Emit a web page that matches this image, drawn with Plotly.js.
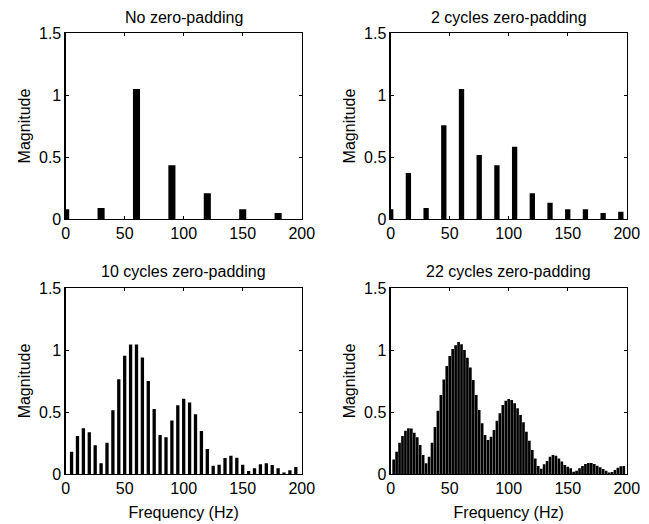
<!DOCTYPE html>
<html>
<head>
<meta charset="utf-8">
<script src="https://cdn.plot.ly/plotly-3.0.1.min.js"></script>
<style>html,body{margin:0;padding:0;background:#fff;}#chart{width:649px;height:524px;}</style>
</head>
<body>
<div id="chart"></div>
<script>
// Panel 1: no zero-padding (30 Hz spacing)
const freq1 = [0, 30, 60, 90, 120, 150, 180];
const mag1 = [0.078, 0.089, 1.048, 0.434, 0.207, 0.078, 0.048];

// Panel 2: 2 cycles zero-padding (15 Hz spacing)
const freq2 = [0, 15, 30, 45, 60, 75, 90, 105, 120, 135, 150, 165, 180, 195];
const mag2 = [0.078, 0.372, 0.089, 0.757, 1.048, 0.517, 0.434, 0.582, 0.207, 0.132, 0.078, 0.078, 0.048, 0.059];

// Panel 3: 10 cycles zero-padding (5 Hz spacing)
const freq3 = [5, 10, 15, 20, 25, 30, 35, 40, 45, 50, 55, 60, 65, 70, 75, 80, 85, 90, 95, 100,
               105, 110, 115, 120, 125, 130, 135, 140, 145, 150, 155, 160, 165, 170, 175, 180, 185, 190, 195];
const mag3 = [0.18, 0.307, 0.369, 0.337, 0.232, 0.086, 0.253, 0.514, 0.765, 0.953, 1.045, 1.045, 0.94, 0.751, 0.525, 0.315, 0.296, 0.431, 0.555, 0.606,
              0.576, 0.482, 0.347, 0.202, 0.067, 0.075, 0.129, 0.148, 0.132, 0.075, 0.024, 0.046, 0.078, 0.086, 0.073, 0.046, 0.013, 0.03, 0.057];

// Panel 4: 22 cycles zero-padding (2.5 Hz spacing)
const freq4 = [2.5, 5, 7.5, 10, 12.5, 15, 17.5, 20, 22.5, 25, 27.5, 30, 32.5, 35, 37.5, 40, 42.5, 45, 47.5, 50,
               52.5, 55, 57.5, 60, 62.5, 65, 67.5, 70, 72.5, 75, 77.5, 80, 82.5, 85, 87.5, 90, 92.5, 95, 97.5, 100,
               102.5, 105, 107.5, 110, 112.5, 115, 117.5, 120, 122.5, 125, 127.5, 130, 132.5, 135, 137.5, 140, 142.5, 145, 147.5, 150,
               152.5, 155, 157.5, 160, 162.5, 165, 167.5, 170, 172.5, 175, 177.5, 180, 182.5, 185, 187.5, 190, 192.5, 195, 197.5];
const mag4 = [0.118, 0.18, 0.253, 0.306, 0.349, 0.368, 0.366, 0.333, 0.296, 0.234, 0.153, 0.086, 0.14, 0.253, 0.38, 0.51, 0.637, 0.763, 0.87, 0.952,
              1.008, 1.038, 1.065, 1.046, 1.0, 0.938, 0.858, 0.758, 0.637, 0.516, 0.409, 0.315, 0.274, 0.301, 0.355, 0.43, 0.489, 0.556, 0.59, 0.605,
              0.597, 0.57, 0.53, 0.476, 0.417, 0.341, 0.269, 0.194, 0.126, 0.065, 0.043, 0.078, 0.105, 0.14, 0.153, 0.148, 0.126, 0.1, 0.073, 0.059,
              0.046, 0.019, 0.027, 0.046, 0.065, 0.08, 0.089, 0.089, 0.08, 0.067, 0.054, 0.04, 0.027, 0.013, 0.016, 0.032, 0.051, 0.062, 0.065];

const titles = ["No zero-padding", "2 cycles zero-padding", "10 cycles zero-padding", "22 cycles zero-padding"];
const xTickVals = [0, 50, 100, 150, 200];
const yTickVals = [0, 0.5, 1, 1.5];

const FONT = "Liberation Sans, Arial, sans-serif";
const FS = 16;

function bar(x, y, w, xa, ya) {
  return {type: "bar", x: x, y: y, width: w, xaxis: xa, yaxis: ya,
          marker: {color: "#000", line: {width: 0}}, hoverinfo: "skip", showlegend: false};
}

const traces = [
  bar(freq1, mag1, 6, "x", "y"),
  bar(freq2, mag2, 4.5, "x2", "y2"),
  bar(freq3, mag3, 2.8, "x3", "y3"),
  bar(freq4, mag4, 2.25, "x4", "y4")
];

const xdomL = [0.1012, 0.4649], xdomR = [0.602, 0.9657];
const ydomT = [0.582, 0.937], ydomB = [0.0954, 0.4504];

function xax(dom, anchor, withTitle) {
  const a = {domain: dom, anchor: anchor, range: [0, 200], tickmode: "array", tickvals: xTickVals,
    ticks: "inside", ticklen: 3, tickcolor: "#000", showline: true, linecolor: "#000", linewidth: 1.2,
    mirror: "ticks", showgrid: false, zeroline: false, fixedrange: true,
    tickfont: {family: FONT, size: FS, color: "#000"}};
  if (withTitle) a.title = {text: "Frequency (Hz)", font: {family: FONT, size: FS, color: "#000"}, standoff: 10};
  return a;
}
function yax(dom, anchor) {
  return {domain: dom, anchor: anchor, range: [0, 1.5], tickmode: "array", tickvals: yTickVals,
    ticks: "inside", ticklen: 3, tickcolor: "#000", showline: true, linecolor: "#000", linewidth: 1.2,
    mirror: "ticks", showgrid: false, zeroline: false, fixedrange: true,
    tickfont: {family: FONT, size: FS, color: "#000"},
    title: {text: "Magnitude", font: {family: FONT, size: FS, color: "#000"}, standoff: 4}};
}

const centers = [
  [(xdomL[0] + xdomL[1]) / 2, ydomT[1]],
  [(xdomR[0] + xdomR[1]) / 2, ydomT[1]],
  [(xdomL[0] + xdomL[1]) / 2, ydomB[1]],
  [(xdomR[0] + xdomR[1]) / 2, ydomB[1]]
];

const layout = {
  width: 649, height: 524,
  margin: {l: 0, r: 0, t: 0, b: 0},
  paper_bgcolor: "#fff", plot_bgcolor: "#fff",
  showlegend: false,
  xaxis: xax(xdomL, "y", false), yaxis: yax(ydomT, "x"),
  xaxis2: xax(xdomR, "y2", false), yaxis2: yax(ydomT, "x2"),
  xaxis3: xax(xdomL, "y3", true), yaxis3: yax(ydomB, "x3"),
  xaxis4: xax(xdomR, "y4", true), yaxis4: yax(ydomB, "x4"),
  annotations: titles.map((t, i) => ({
    text: t, xref: "paper", yref: "paper", x: centers[i][0], y: centers[i][1],
    xanchor: "center", yanchor: "middle", yshift: 16, showarrow: false,
    font: {family: FONT, size: FS, color: "#000"}
  }))
};

Plotly.newPlot("chart", traces, layout, {staticPlot: true, displayModeBar: false});
</script>
</body>
</html>
